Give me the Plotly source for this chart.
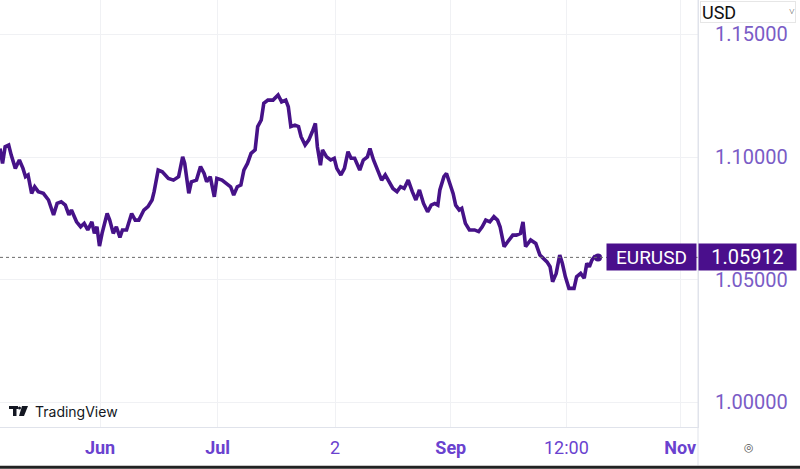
import plotly.graph_objects as go
import pandas as pd

# ---------------- data ----------------
symbol = "EURUSD"
currency = "USD"
base_date = "2023-05-05"
day_offsets = [0.6, 1.27, 1.95, 2.89, 3.56, 4.64, 5.71, 6.66, 7.33, 8.00, 8.94, 9.75, 10.69, 12.04,
               13.39, 14.73, 15.67, 16.75, 17.83, 18.77, 19.44, 20.79, 21.87, 22.81, 23.75, 24.83,
               25.50, 26.17, 26.84, 27.52, 28.86, 29.54, 30.48, 31.29, 32.23, 32.90, 33.98, 35.32,
               36.27, 37.21, 38.55, 39.63, 40.71, 41.25, 42.32, 43.40, 45.01, 46.36, 47.71, 48.78,
               49.32, 50.40, 51.07, 52.42, 53.49, 54.44, 55.11, 56.05, 57.13, 57.80, 59.15, 60.09,
               61.43, 62.24, 63.18, 64.13, 64.93, 65.88, 66.82, 67.89, 68.57, 69.51, 70.18, 71.26,
               72.61, 73.95, 74.89, 75.97, 76.64, 77.32, 78.39, 79.34, 80.01, 81.08, 82.03, 82.97,
               83.78, 84.31, 85.12, 85.66, 86.74, 87.81, 88.76, 89.43, 90.51, 91.45, 92.39, 93.20,
               94.14, 95.49, 96.43, 97.51, 98.18, 99.12, 100.20, 101.27, 102.21, 103.16, 104.23,
               105.31, 106.25, 107.19, 108.27, 109.35, 110.29, 111.23, 112.31, 113.39, 114.33,
               115.27, 116.08, 116.62, 117.69, 118.37, 119.04, 120.11, 120.79, 121.73, 122.40,
               123.35, 124.42, 125.77, 126.85, 127.79, 128.73, 129.81, 130.88, 131.82, 132.50,
               133.57, 134.52, 135.86, 136.81, 137.88, 138.55, 139.23, 140.57, 141.92, 143.00,
               143.94, 144.88, 145.69, 146.36, 147.30, 148.24, 148.92, 149.73, 150.67, 152.01,
               152.69, 153.76, 154.70, 155.38, 156.05, 156.72, 157.40, 158.34]
prices = [1.1035, 1.0974, 1.1042, 1.1049, 1.1008, 1.0954, 1.0988, 1.0954, 1.0920, 1.0927, 1.0852,
          1.0879, 1.0859, 1.0852, 1.0825, 1.0764, 1.0811, 1.0818, 1.0804, 1.0764, 1.0784, 1.0736,
          1.0716, 1.0730, 1.0703, 1.0736, 1.0689, 1.0716, 1.0637, 1.0689, 1.0770, 1.0743, 1.0689,
          1.0716, 1.0673, 1.0703, 1.0703, 1.0770, 1.0743, 1.0743, 1.0784, 1.0798, 1.0825, 1.0859,
          1.0947, 1.0940, 1.0913, 1.0906, 1.0920, 1.1001, 1.0974, 1.0852, 1.0899, 1.0906, 1.0961,
          1.0933, 1.0899, 1.0920, 1.0838, 1.0913, 1.0906, 1.0893, 1.0879, 1.0845, 1.0879, 1.0886,
          1.0947, 1.0974, 1.1015, 1.1029, 1.1124, 1.1151, 1.1219, 1.1232, 1.1232, 1.1253, 1.1225,
          1.1232, 1.1205, 1.1124, 1.1130, 1.1124, 1.1083, 1.1049, 1.1069, 1.1103, 1.1137, 1.1042,
          1.0967, 1.1029, 1.1001, 1.0988, 1.0995, 1.0954, 1.0927, 1.0954, 1.1022, 1.0995, 1.0995,
          1.0947, 1.0988, 1.1001, 1.1035, 1.0988, 1.0947, 1.0906, 1.0927, 1.0899, 1.0872, 1.0859,
          1.0879, 1.0872, 1.0906, 1.0859, 1.0825, 1.0866, 1.0811, 1.0777, 1.0804, 1.0811, 1.0804,
          1.0866, 1.0920, 1.0933, 1.0899, 1.0852, 1.0804, 1.0784, 1.0791, 1.0730, 1.0703, 1.0703,
          1.0696, 1.0716, 1.0743, 1.0736, 1.0757, 1.0743, 1.0716, 1.0635, 1.0655, 1.0682, 1.0682,
          1.0689, 1.0736, 1.0635, 1.0662, 1.0648, 1.0601, 1.0587, 1.0573, 1.0553, 1.0492, 1.0526,
          1.0601, 1.0567, 1.0512, 1.0465, 1.0465, 1.0512, 1.0526, 1.0506, 1.0567, 1.0553, 1.0580,
          1.0594, 1.05912]
last_price = 1.05912
x_tick_dates = ["2023-06-01", "2023-07-02", "2023-08-02", "2023-09-01 12:00", "2023-10-02", "2023-11-01"]
x_tick_labels = ["<b>Jun</b>", "<b>Jul</b>", "2", "<b>Sep</b>", "12:00", "<b>Nov</b>"]
y_ticks = [1.00, 1.05, 1.10, 1.15]
y_tick_labels = ["1.00000", "1.05000", "1.10000", "1.15000"]
x_range = ["2023-05-05 14:24", "2023-11-05 17:00"]
y_range = [0.99, 1.164]

# ---------------- figure ----------------
dates = pd.to_datetime(base_date) + pd.to_timedelta(day_offsets, unit="D")

LINE = "#461288"
TAG = "#4a0f8c"
AXIS_TXT = "#7a5cc6"
GRID = "#f0f1f4"
SEP = "#e0e3eb"
FONT = "Roboto"

fig = go.Figure()
fig.add_trace(go.Scatter(x=dates, y=prices, mode="lines",
                         line=dict(color=LINE, width=3.6), hoverinfo="skip", showlegend=False))
fig.add_trace(go.Scatter(x=[dates[-1]], y=[prices[-1]], mode="markers",
                         marker=dict(color=LINE, size=8), hoverinfo="skip", showlegend=False))

fig.update_layout(
    width=800, height=469,
    margin=dict(l=0, r=102, t=0, b=42),
    paper_bgcolor="white", plot_bgcolor="white",
    font=dict(family=FONT),
    xaxis=dict(range=x_range, tickvals=x_tick_dates, ticktext=x_tick_labels,
               showgrid=True, gridcolor=GRID, gridwidth=1, zeroline=False,
               showline=True, linecolor=SEP, linewidth=1, ticks="",
               tickfont=dict(size=18, color="#6a42cf", family=FONT), ticklabelstandoff=4),
    yaxis=dict(range=y_range, side="right", tickvals=y_ticks, ticktext=y_tick_labels,
               showgrid=True, gridcolor=GRID, gridwidth=1, zeroline=False,
               showline=True, linecolor=SEP, linewidth=1, ticks="",
               tickfont=dict(size=20, color=AXIS_TXT, family=FONT), ticklabelstandoff=12),
)

# dotted last-price line
fig.add_shape(type="line", xref="paper", yref="y", x0=0, x1=1, y0=last_price, y1=last_price,
              line=dict(color="#6b6b6b", width=1, dash="dot"))

# separator extending into the axis area and bottom border
fig.add_shape(type="line", xref="paper", yref="paper", x0=1, x1=1, y0=-0.09, y1=1,
              line=dict(color=SEP, width=1))
fig.add_shape(type="line", xref="paper", yref="paper", x0=0, x1=1.147, y0=-0.0945, y1=-0.0945,
              line=dict(color="#222222", width=3))

# price tags
fig.add_annotation(xref="paper", yref="y", x=1, y=last_price, xanchor="right", yanchor="middle",
                   xshift=-1, text=symbol, showarrow=False, width=87, height=24, borderpad=1,
                   bgcolor=TAG, font=dict(color="white", size=19, family=FONT))
fig.add_annotation(xref="paper", yref="y", x=1, y=last_price, xanchor="left", yanchor="middle",
                   text="1.05912", showarrow=False, width=95, height=24, borderpad=1,
                   bgcolor=TAG, font=dict(color="white", size=20, family=FONT))

# currency selector
fig.add_annotation(xref="paper", yref="paper", x=1.003, y=0.997, xanchor="left", yanchor="top",
                   text=currency, showarrow=False, width=92, height=18, align="left",
                   bordercolor="#e6e6e6", borderwidth=1, borderpad=1, bgcolor="white",
                   font=dict(color="#111111", size=18, family=FONT))
fig.add_annotation(xref="paper", yref="paper", x=1.134, y=0.99, xanchor="center", yanchor="top",
                   text="˅", showarrow=False, font=dict(color="#555555", size=10, family=FONT))

# settings icon at bottom right
fig.add_annotation(xref="paper", yref="paper", x=1.073, y=-0.047, xanchor="center", yanchor="middle",
                   text="◎", showarrow=False, font=dict(color="#555555", size=11, family="DejaVu Sans"))

# TradingView logo
fig.add_shape(type="rect", xref="paper", yref="paper", x0=9/698, x1=18/698,
              y0=(427-409)/427, y1=(427-406)/427, fillcolor="#131722", line=dict(width=0))
fig.add_shape(type="rect", xref="paper", yref="paper", x0=13/698, x1=16.5/698,
              y0=(427-416)/427, y1=(427-406)/427, fillcolor="#131722", line=dict(width=0))
fig.add_shape(type="circle", xref="paper", yref="paper", x0=18/698, x1=21/698,
              y0=(427-409.5)/427, y1=(427-406.5)/427, fillcolor="#131722", line=dict(width=0))
fig.add_shape(type="path", xref="paper", yref="paper",
              path=f"M {22/698} {(427-406)/427} L {28/698} {(427-406)/427} L {24/698} {(427-416)/427} L {19/698} {(427-416)/427} Z",
              fillcolor="#131722", line=dict(width=0))
fig.add_annotation(xref="paper", yref="paper", x=33/698, y=(427-411)/427, xanchor="left", yanchor="middle",
                   text="TradingView", showarrow=False,
                   font=dict(color="#131722", size=14, family="Inter"))

fig.write_html("out.html", config={"displayModeBar": False},
               post_script="document.body.style.margin='0';document.body.style.overflow='hidden';")
